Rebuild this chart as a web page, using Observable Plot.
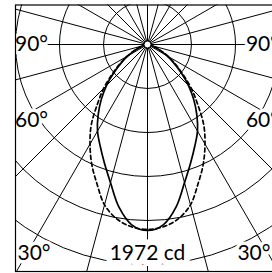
<!DOCTYPE html>
<html><head><meta charset="utf-8">
<script src="https://cdn.jsdelivr.net/npm/d3@7"></script>
<script src="https://cdn.jsdelivr.net/npm/@observablehq/plot@0.6"></script>
<style>html,body{margin:0;padding:0;background:#fff;overflow:hidden}
#chart svg{max-width:none !important;height:273px !important;display:block}</style>
</head><body><div id="chart"></div>
<script>
// Polar light distribution (cd), angle measured from nadir
const angles   = [0,5,10,15,20,25,30,35,40,45,50,55,60,65,70,75,80,85,90];
const planeC0  = [1972,1919,1749,1516,1336,1187,1060,912,763,615,466,339,233,148,85,42,21,11,0]; // solid
const planeC90 = [1961,1940,1877,1760,1569,1399,1219,1039,827,657,488,360,254,159,95,53,21,11,0]; // dashed
const ringValues = [466,933,1399,1866,2332];
const spokeAngles = [0,15,30,45,60,75,90,105,120,135,150,165,180,195,210,225,240,255,270,285,300,315,330,345];
const sideLabels = ["90°","60°","30°"];
const maxLabel = "1972 cd";

const W = 280, H = 273, mL = 15, mR = 1, mT = 4.5, mB = 2;
const cx = 147, cy = 44;           // pixel position of the lamp
const k = 186 / 1972;              // px per cd
const rad = d => d * Math.PI / 180;

// build curve points (mirror for both sides)
function curve(vals) {
  const pts = [];
  for (let i = angles.length - 1; i >= 0; i--) pts.push({a: -angles[i], v: vals[i]});
  for (let i = 1; i < angles.length; i++) pts.push({a: angles[i], v: vals[i]});
  return pts.map(p => ({x: p.v * Math.sin(rad(p.a)), y: -p.v * Math.cos(rad(p.a))}));
}
const solid = curve(planeC0);
const dashed = curve(planeC90);

const xDom = [(mL - cx) / k, (W - mR - cx) / k];
const yDom = [(cy - (H - mB)) / k, (cy - mT) / k];
const far = 600 / k;
const spokes = spokeAngles.map(a => ({x2: far * Math.sin(rad(a)), y2: -far * Math.cos(rad(a))}));
const rings = ringValues.map(v => ({v, r: v * k}));

const xl = xDom[0];
const y60 = -Math.abs(xl) / Math.tan(rad(60));
const sideRows = [
  {t: sideLabels[0], y: 0, dy: 0},
  {t: sideLabels[1], y: y60, dy: -9}
];
const font = {fontFamily: "Lato, 'Open Sans', sans-serif", fontSize: 21};

const textMarks = (data, opts, halo = 7) => [
  Plot.text(data, {...opts, ...font, fill: "white", stroke: "white", strokeWidth: halo}),
  Plot.text(data, {...opts, ...font, fill: "black"})
];

const chart = Plot.plot({
  width: W, height: H,
  marginLeft: mL, marginRight: mR, marginTop: mT, marginBottom: mB,
  x: {domain: xDom, axis: null},
  y: {domain: yDom, axis: null},
  r: {type: "identity"},
  marks: [
    Plot.link(spokes, {x1: 0, y1: 0, x2: "x2", y2: "y2", stroke: "black", strokeWidth: 1, clip: true}),
    Plot.dot(rings, {x: 0, y: 0, r: "r", stroke: "black", strokeWidth: 1, fill: "none", clip: true}),
    Plot.line(dashed, {x: "x", y: "y", curve: "catmull-rom", stroke: "black", strokeWidth: 1.7, strokeDasharray: "4,3"}),
    Plot.line(solid, {x: "x", y: "y", curve: "catmull-rom", stroke: "black", strokeWidth: 1.7}),
    Plot.dot([0], {x: 0, y: 0, r: 3.5, fill: "white", stroke: "black", strokeWidth: 1}),
    ...textMarks(sideRows, {text: "t", y: "y", dy: "dy", frameAnchor: "left", textAnchor: "start", dx: 2}),
    ...textMarks(sideRows, {text: "t", y: "y", dy: "dy", frameAnchor: "right", textAnchor: "end", dx: -9}),
    ...textMarks([sideLabels[2]], {text: d => d, frameAnchor: "bottom-left", textAnchor: "start", dx: 2, dy: -12}),
    ...textMarks([sideLabels[2]], {text: d => d, frameAnchor: "bottom-right", textAnchor: "end", dx: -9, dy: -12}),
    ...textMarks([maxLabel], {text: d => d, x: 0, frameAnchor: "bottom", dy: -12}, 12),
    Plot.frame({stroke: "black", strokeWidth: 1.2})
  ]
});
chart.style.maxWidth = "none";
document.getElementById("chart").appendChild(chart);
</script>
</body></html>
